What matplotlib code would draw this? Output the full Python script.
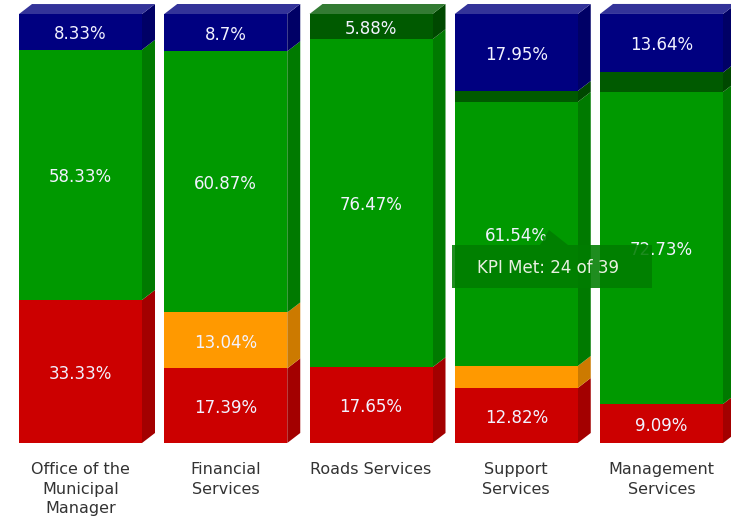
import matplotlib
matplotlib.use("Agg")
import matplotlib.pyplot as plt
from matplotlib.patches import Polygon, FancyBboxPatch
import matplotlib.colors as mcolors
import numpy as np

plt.rcParams['font.family'] = ['DejaVu Sans']

categories = ["Office of the\nMunicipal\nManager", "Financial\nServices",
              "Roads Services", "Support\nServices", "Management\nServices"]
not_met = [33.33, 17.39, 17.65, 12.82, 9.09]
almost_met = [0, 13.04, 0, 5.13, 0]
met = [58.33, 60.87, 76.47, 61.54, 72.73]
well_met = [0, 0, 5.88, 2.56, 4.55]
extremely_well_met = [8.33, 8.7, 0, 17.95, 13.64]

series = [not_met, almost_met, met, well_met, extremely_well_met]
colors = ["#cc0000", "#ff9900", "#009900", "#005a00", "#000080"]

tooltip_label = "KPI Met"
tooltip_count = 24
tooltip_total = 39

W, H = 731, 518
fig = plt.figure(figsize=(W / 100, H / 100), dpi=100)
ax = fig.add_axes([0, 75 / H, 1, 443 / H])

px_per_unit_x = 145.25
px_per_pct = 4.29
x0_px = 80.5
ax.set_xlim(-x0_px / px_per_unit_x, (W - x0_px) / px_per_unit_x)
ax.set_ylim(0, 443 / px_per_pct)

bw = 123 / px_per_unit_x
dx = 13 / px_per_unit_x
dy = 10 / px_per_pct

def darker(c, f=0.8):
    r, g, b = mcolors.to_rgb(c)
    return (r * f, g * f, b * f)

def lighter(c, f=0.2):
    r, g, b = mcolors.to_rgb(c)
    return (r + (1 - r) * f, g + (1 - g) * f, b + (1 - b) * f)

x = np.arange(len(categories))
bottoms = np.zeros(len(categories))
for vals, col in zip(series, colors):
    vals = np.array(vals, dtype=float)
    ax.bar(x, vals, bottom=bottoms, width=bw, color=col, linewidth=0, zorder=2)
    for i in range(len(x)):
        if vals[i] <= 0:
            continue
        b = bottoms[i]
        t = b + vals[i]
        xr = x[i] + bw / 2
        side = Polygon([(xr, b), (xr + dx, b + dy), (xr + dx, t + dy), (xr, t)],
                       closed=True, facecolor=darker(col), edgecolor="none", zorder=1)
        ax.add_patch(side)
        if vals[i] >= 5.5:
            ax.text(x[i], b + vals[i] / 2 - 0.5, f"{vals[i]:g}%", ha="center", va="center",
                    color="#f2f2ff", fontsize=12, zorder=5)
    bottoms = bottoms + vals

# top faces
for i in range(len(x)):
    top_col = None
    for vals, col in zip(series, colors):
        if vals[i] > 0:
            top_col = col
    T = bottoms[i]
    xl = x[i] - bw / 2
    xr = x[i] + bw / 2
    ax.add_patch(Polygon([(xl, T), (xl + dx, T + dy), (xr + dx, T + dy), (xr, T)],
                         closed=True, facecolor=lighter(top_col), edgecolor="none", zorder=1))

ax.set_xticks(x)
ax.set_xticklabels(categories, fontsize=11.5, color="#333333", linespacing=1.4)
ax.tick_params(axis="x", length=0, pad=13.5)
ax.set_yticks([])
for s in ax.spines.values():
    s.set_visible(False)

# tooltip overlay (in pixel coordinates of figure)
def fx(px):
    return px / W

def fy(py):
    return 1 - py / H

tip_col = "#007d00"
box = FancyBboxPatch((fx(452), fy(288)), fx(652) - fx(452), fy(245) - fy(288),
                     boxstyle="square,pad=0", transform=fig.transFigure,
                     facecolor=tip_col, edgecolor="none", alpha=0.88, zorder=10)
fig.patches.append(box)
tri = Polygon([(fx(540), fy(245)), (fx(549), fy(230)), (fx(568), fy(245))], closed=True,
              transform=fig.transFigure, facecolor=tip_col, edgecolor="none", alpha=0.88, zorder=10)
fig.patches.append(tri)
fig.text(fx(477), fy(268), f"{tooltip_label}: {tooltip_count} of {tooltip_total}",
         ha="left", va="center", color="#e8f0e0", fontsize=12, zorder=11)

fig.savefig("out.png", dpi=100)
